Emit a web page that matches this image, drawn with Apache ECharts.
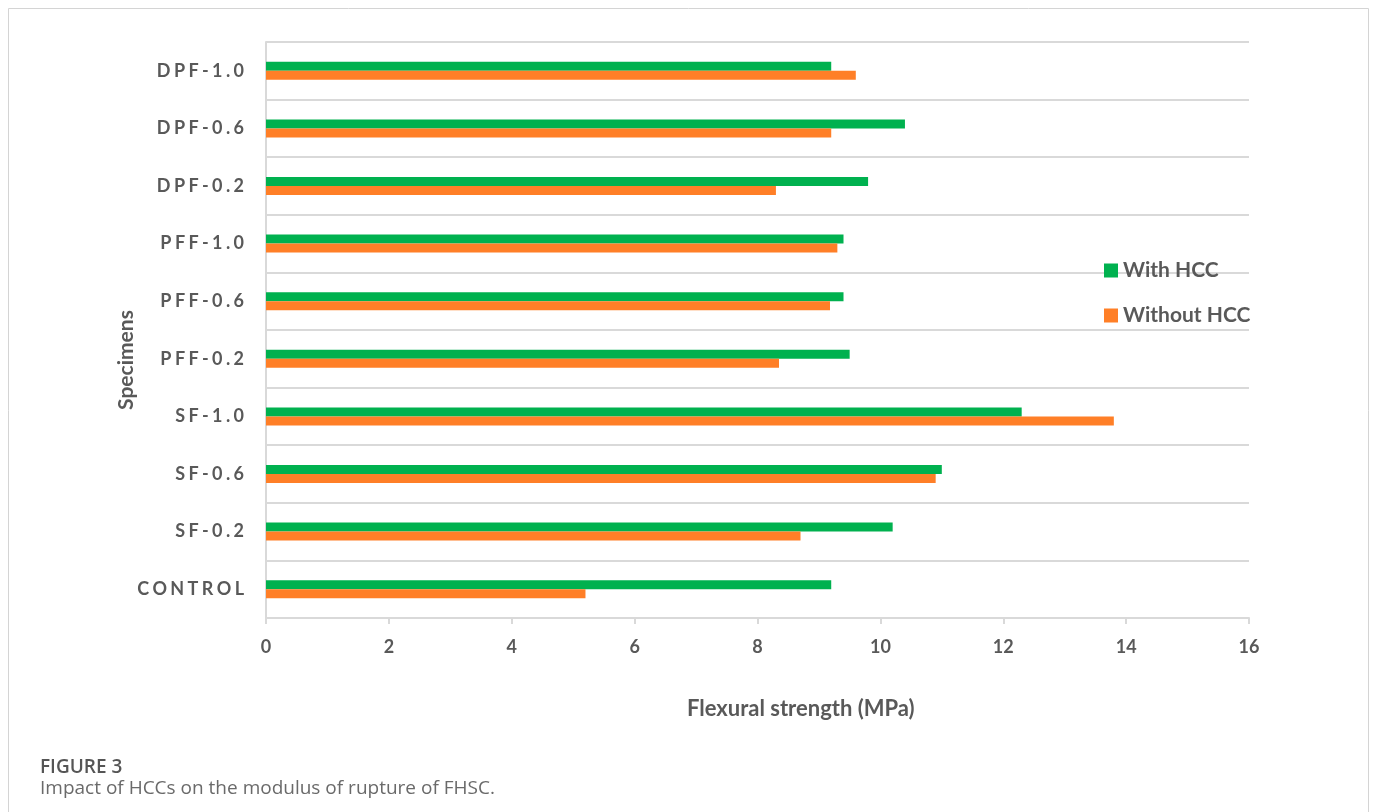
<!DOCTYPE html>
<html>
<head>
<meta charset="utf-8">
<script src="https://cdn.jsdelivr.net/npm/echarts@6/dist/echarts.min.js"></script>
<style>
html,body{margin:0;padding:0;background:#fff;}
#chart{width:1375px;height:812px;}
</style>
</head>
<body>
<div id="chart"></div>
<script>
// Categories listed bottom to top (as on the category axis)
const categories = ['CONTROL','SF-0.2','SF-0.6','SF-1.0','PFF-0.2','PFF-0.6','PFF-1.0','DPF-0.2','DPF-0.6','DPF-1.0'];
const withHCC    = [9.2, 10.2, 11.0, 12.3, 9.5, 9.4, 9.4, 9.8, 10.4, 9.2];
const withoutHCC = [5.2, 8.7, 10.9, 13.8, 8.35, 9.18, 9.3, 8.3, 9.2, 9.6];
const xTicks = [0, 2, 4, 6, 8, 10, 12, 14, 16];
const seriesNames = ['With HCC', 'Without HCC'];

const FONT = 'Lato, "Open Sans", sans-serif';
const TXT = '#595959';
const GRID = '#d9d9d9';

const chart = echarts.init(document.getElementById('chart'), null, {renderer: 'canvas'});
chart.setOption({
  backgroundColor: '#ffffff',
  animation: false,
  grid: {left: 266, right: 126, top: 42, bottom: 194, containLabel: false},
  legend: {
    data: seriesNames,
    orient: 'vertical',
    left: 1099,
    top: 255,
    itemWidth: 14,
    itemHeight: 14,
    itemGap: 24,
    icon: 'rect',
    textStyle: {fontFamily: FONT, fontSize: 21, fontWeight: 'bold', color: TXT}
  },
  xAxis: {
    type: 'value',
    min: xTicks[0],
    max: xTicks[xTicks.length - 1],
    interval: 2,
    axisLine: {show: true, lineStyle: {color: GRID, width: 2}},
    axisTick: {show: true, length: 6, lineStyle: {color: GRID, width: 2}},
    splitLine: {show: false},
    axisLabel: {fontFamily: FONT, fontSize: 18, fontWeight: 'bold', color: TXT, margin: 20}
  },
  yAxis: {
    type: 'category',
    data: categories,
    axisLine: {show: true, lineStyle: {color: GRID, width: 2}},
    axisTick: {show: false},
    splitLine: {show: true, lineStyle: {color: GRID, width: 2}},
    axisLabel: {
      fontFamily: FONT, fontSize: 18, fontWeight: 'bold', color: TXT, margin: 22,
      formatter: v => v.split('').join('\u2009\u200A')
    }
  },
  series: [
    {
      name: 'With HCC', type: 'bar', data: withHCC,
      barWidth: 9, barGap: '0%',
      itemStyle: {color: '#00b14f'}
    },
    {
      name: 'Without HCC', type: 'bar', data: withoutHCC,
      barWidth: 9, barGap: '0%',
      itemStyle: {color: '#ff7f27'}
    }
  ],
  graphic: [
    {type: 'rect', shape: {x: 8.5, y: 8.5, width: 1360, height: 900}, style: {fill: null, stroke: '#d4d4d4', lineWidth: 1}, silent: true, z: -10},
    {type: 'text', left: 687, top: 698, style: {text: 'Flexural strength (MPa)', font: 'bold 22px ' + FONT, fill: TXT}},
    {type: 'text', x: 116, y: 360, rotation: Math.PI / 2, style: {text: 'Specimens', font: 'bold 21px ' + FONT, fill: TXT, align: 'center', verticalAlign: 'top'}},
    {type: 'text', left: 40, top: 758, style: {text: 'FIGURE 3', font: '600 19px "Open Sans", sans-serif', fill: '#555555'}},
    {type: 'text', left: 40, top: 779, style: {text: 'Impact of HCCs on the modulus of rupture of FHSC.', font: '19px "Open Sans", sans-serif', fill: '#6a6a6a'}}
  ]
});
</script>
</body>
</html>
